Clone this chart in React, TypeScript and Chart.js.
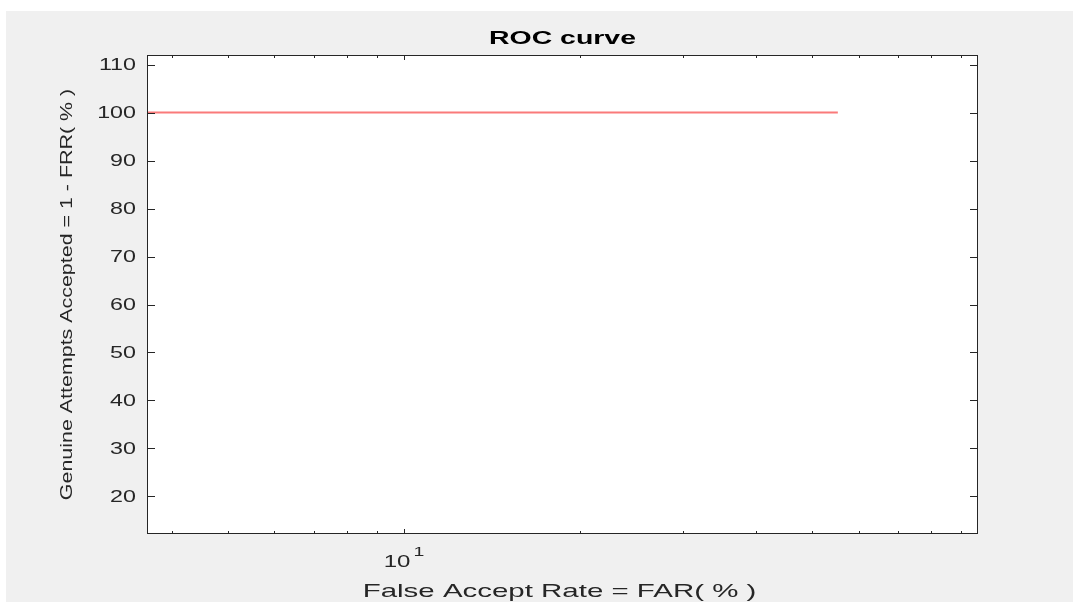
import React, { useEffect, useRef } from "react";
import { Chart, registerables } from "chart.js";

Chart.register(...registerables);

// ---- data ----
const FAR_VALUES = [3.63, 55.3];
const GAR_VALUES = [100, 100];
const Y_TICKS = [20, 30, 40, 50, 60, 70, 80, 90, 100, 110];
const X_MAJOR_TICKS = [10];
const X_MINOR_TICKS = [4, 5, 6, 7, 8, 9, 20, 30, 40, 50, 60, 70, 80, 90];
const X_MIN = 3.63;
const X_MAX = 96.1;
const Y_MIN = 12.17;
const Y_MAX = 112.0;
const TITLE = "ROC curve";
const X_LABEL = "False Accept Rate = FAR( % )";
const Y_LABEL = "Genuine Attempts Accepted = 1 - FRR( % )";

const FAMILY = '"Liberation Sans", Arial, Helvetica, sans-serif';
const INK = "#262626";

function drawText(
  ctx: CanvasRenderingContext2D,
  text: string,
  x: number,
  y: number,
  font: string,
  sx: number,
  align: CanvasTextAlign,
  baseline: CanvasTextBaseline,
  rotate = false,
  color = INK
) {
  ctx.save();
  ctx.translate(x, y);
  if (rotate) ctx.rotate(-Math.PI / 2);
  ctx.scale(sx, 1);
  ctx.font = font;
  ctx.fillStyle = color;
  ctx.textAlign = align;
  ctx.textBaseline = baseline;
  ctx.fillText(text, 0, 0);
  ctx.restore();
}

const matlabAxes = {
  id: "matlabAxes",
  beforeDraw(chart: any) {
    const { ctx, chartArea } = chart;
    ctx.save();
    ctx.fillStyle = "#ffffff";
    ctx.fillRect(chartArea.left, chartArea.top, chartArea.right - chartArea.left, chartArea.bottom - chartArea.top);
    ctx.restore();
  },
  afterDraw(chart: any) {
    const { ctx, chartArea } = chart;
    const xs = chart.scales.x;
    const ys = chart.scales.y;
    const L = chartArea.left, R = chartArea.right, T = chartArea.top, B = chartArea.bottom;
    ctx.save();
    ctx.strokeStyle = INK;
    ctx.lineWidth = 1;
    // box
    ctx.strokeRect(L + 0.5, T + 0.5, R - L - 1, B - T - 1);
    ctx.beginPath();
    // y ticks (both sides, inward)
    Y_TICKS.forEach((v) => {
      const py = Math.round(ys.getPixelForValue(v)) + 0.5;
      ctx.moveTo(L, py);
      ctx.lineTo(L + 8, py);
      ctx.moveTo(R, py);
      ctx.lineTo(R - 8, py);
    });
    // x ticks
    const xt = (v: number, len: number) => {
      const px = Math.round(xs.getPixelForValue(v)) + 0.5;
      ctx.moveTo(px, B);
      ctx.lineTo(px, B - len);
      ctx.moveTo(px, T);
      ctx.lineTo(px, T + len);
    };
    X_MAJOR_TICKS.forEach((v) => xt(v, 5));
    X_MINOR_TICKS.forEach((v) => xt(v, 3));
    ctx.stroke();
    ctx.restore();

    // y tick labels
    Y_TICKS.forEach((v) => {
      const py = ys.getPixelForValue(v) + 1;
      drawText(ctx, String(v), L - 11, py, `16.5px ${FAMILY}`, 1.41, "right", "middle");
    });

    // x tick labels 10^1
    X_MAJOR_TICKS.forEach((v) => {
      const px = xs.getPixelForValue(v);
      const exp = String(Math.round(Math.log10(v)));
      const sx = 1.5;
      ctx.save();
      ctx.font = `16px ${FAMILY}`;
      const w1 = ctx.measureText("10").width;
      ctx.font = `13px ${FAMILY}`;
      const w2 = ctx.measureText(exp).width;
      ctx.restore();
      const gap = 2;
      const total = (w1 + gap + w2) * sx;
      const start = px - total / 2;
      const base = B + 33;
      drawText(ctx, "10", start, base, `16px ${FAMILY}`, sx, "left", "alphabetic");
      drawText(ctx, exp, start + (w1 + gap) * sx, base - 11, `13px ${FAMILY}`, sx, "left", "alphabetic");
    });

    const cx = (L + R) / 2;
    const cy = (T + B) / 2;
    // title
    drawText(ctx, TITLE, cx, T - 11, `bold 18px ${FAMILY}`, 1.58, "center", "alphabetic", false, "#000000");
    // x label
    drawText(ctx, X_LABEL, cx - 3, B + 63, `19px ${FAMILY}`, 1.55, "center", "alphabetic");
    // y label
    drawText(ctx, Y_LABEL, L - 75.5, cy, `17px ${FAMILY}`, 1.26, "center", "alphabetic", true);
  },
};

export default function App() {
  const ref = useRef<HTMLCanvasElement | null>(null);
  useEffect(() => {
    if (!ref.current) return;
    const chart = new Chart(ref.current, {
      type: "line",
      data: {
        datasets: [
          {
            data: FAR_VALUES.map((x, i) => ({ x, y: GAR_VALUES[i] })),
            borderColor: "rgb(250,122,122)",
            borderWidth: 2,
            pointRadius: 0,
            fill: false,
            tension: 0,
          },
        ],
      },
      options: {
        animation: false,
        responsive: false,
        devicePixelRatio: 1,
        layout: { padding: { left: 141, top: 44, right: 95, bottom: 68 } },
        scales: {
          x: { type: "logarithmic", min: X_MIN, max: X_MAX, display: false },
          y: { type: "linear", min: Y_MIN, max: Y_MAX, display: false },
        },
        plugins: {
          legend: { display: false },
          title: { display: false },
          tooltip: { enabled: false },
        },
      },
      plugins: [matlabAxes],
    });
    return () => chart.destroy();
  }, []);
  return (
    <canvas
      ref={ref}
      width={1067}
      height={591}
      style={{ position: "absolute", left: 6, top: 11, width: 1067, height: 591, background: "#f0f0f0" }}
    />
  );
}
